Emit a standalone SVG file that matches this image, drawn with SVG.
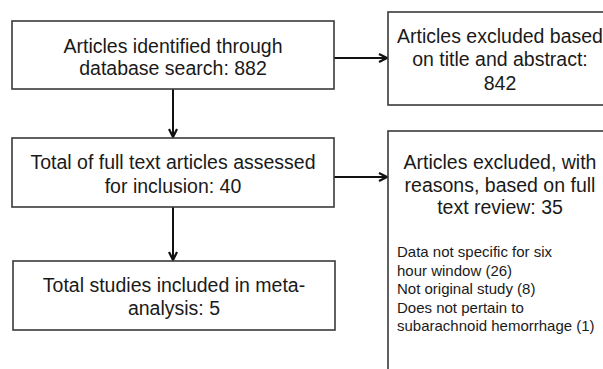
<svg xmlns="http://www.w3.org/2000/svg" width="603" height="369" viewBox="0 0 603 369">
<defs>
<marker id="arr" markerUnits="userSpaceOnUse" markerWidth="12" markerHeight="12" refX="9" refY="5" orient="auto">
<path d="M1,1 L9,5 L1,9" fill="none" stroke="#111" stroke-width="2.2"/>
</marker>
</defs>
<style>
.box{fill:#fff;stroke:#3a3a3a;stroke-width:1.6}
.t{font-family:"Liberation Sans",Arial,Helvetica,sans-serif;font-size:19.5px;fill:#1a1a1a;text-anchor:middle}
.s{font-family:"Liberation Sans",Arial,Helvetica,sans-serif;font-size:15px;fill:#1a1a1a}
.c{fill:none;stroke:#111;stroke-width:2;marker-end:url(#arr)}
</style>
<rect width="603" height="369" fill="#fff"/>
<g id="connectors">
<line class="c" x1="334" y1="58" x2="387" y2="58"/>
<line class="c" x1="173" y1="89" x2="173" y2="137"/>
<line class="c" x1="334" y1="177" x2="387" y2="177"/>
<line class="c" x1="173" y1="207" x2="173" y2="260"/>
</g>
<g id="n1">
<rect class="box" x="12" y="21" width="322" height="68"/>
<text class="t" x="173" y="52.5">Articles identified through</text>
<text class="t" x="173" y="75">database search: 882</text>
</g>
<g id="n2">
<rect class="box" x="388" y="12" width="232" height="93"/>
<text class="t" x="500" y="43">Articles excluded based</text>
<text class="t" x="500" y="66">on title and abstract:</text>
<text class="t" x="500" y="90">842</text>
</g>
<g id="n3">
<rect class="box" x="12" y="138" width="322" height="69"/>
<text class="t" x="173" y="169">Total of full text articles assessed</text>
<text class="t" x="173" y="192.5">for inclusion: 40</text>
</g>
<g id="n4">
<rect class="box" x="388" y="131" width="232" height="250"/>
<text class="t" x="500" y="169">Articles excluded, with</text>
<text class="t" x="500" y="191.5">reasons, based on full</text>
<text class="t" x="500" y="214">text review: 35</text>
<text class="s" x="397" y="257">Data not specific for six</text>
<text class="s" x="397" y="275.5">hour window (26)</text>
<text class="s" x="397" y="294">Not original study (8)</text>
<text class="s" x="397" y="312.5">Does not pertain to</text>
<text class="s" x="397" y="331">subarachnoid hemorrhage (1)</text>
</g>
<g id="n5">
<rect class="box" x="13" y="261" width="322" height="69"/>
<text class="t" x="174" y="292">Total studies included in meta-</text>
<text class="t" x="174" y="315">analysis: 5</text>
</g>
</svg>
